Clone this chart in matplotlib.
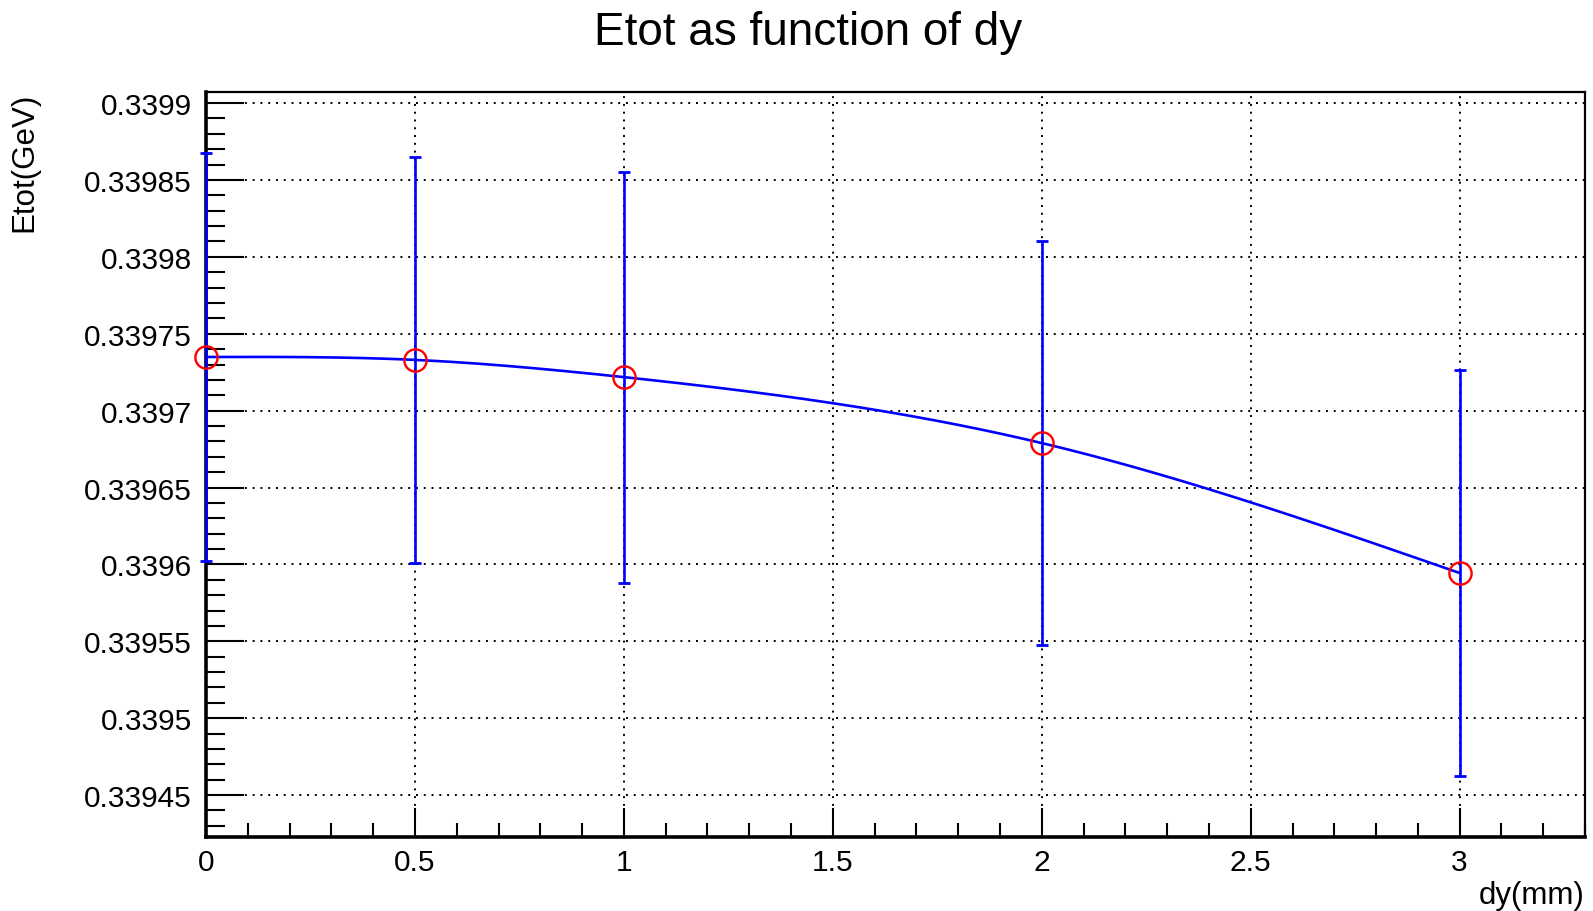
import matplotlib
matplotlib.use("Agg")
import matplotlib.pyplot as plt
from matplotlib.ticker import MultipleLocator, FuncFormatter
import numpy as np

# ── Data ─────────────────────────────────────────────────────────────────────
dy_mm = [0.0, 0.5, 1.0, 2.0, 3.0]
etot_gev = [0.3397349, 0.3397330, 0.3397218, 0.3396789, 0.3395944]
etot_err = [0.0001326, 0.0001320, 0.0001336, 0.0001313, 0.0001320]

X_RANGE = (0.0, 3.3)
Y_RANGE = (0.3394227, 0.3399072)

plt.rcParams["font.family"] = ["Liberation Sans", "DejaVu Sans"]


def natural_spline(x, y, n=400):
    # smooth curve through the points, like ROOT's "C" draw option
    x = np.asarray(x, float)
    y = np.asarray(y, float)
    h = np.diff(x)
    m = len(x)
    A = np.zeros((m, m))
    r = np.zeros(m)
    A[0, 0] = A[-1, -1] = 1.0
    for i in range(1, m - 1):
        A[i, i - 1] = h[i - 1]
        A[i, i] = 2 * (h[i - 1] + h[i])
        A[i, i + 1] = h[i]
        r[i] = 6 * ((y[i + 1] - y[i]) / h[i] - (y[i] - y[i - 1]) / h[i - 1])
    M = np.linalg.solve(A, r)
    xs = np.linspace(x[0], x[-1], n)
    k = np.clip(np.searchsorted(x, xs) - 1, 0, m - 2)
    t0 = x[k + 1] - xs
    t1 = xs - x[k]
    hk = h[k]
    ys = (M[k] * t0**3 / (6 * hk) + M[k + 1] * t1**3 / (6 * hk)
          + (y[k] / hk - M[k] * hk / 6) * t0
          + (y[k + 1] / hk - M[k + 1] * hk / 6) * t1)
    return xs, ys


fig = plt.figure(figsize=(15.93, 9.12), dpi=100)
ax = fig.add_axes([0.1293, 0.0811, 0.8657, 0.8169])

xs, ys = natural_spline(dy_mm, etot_gev)
ax.plot(xs, ys, color="blue", linewidth=1.9, zorder=3)
ax.errorbar(dy_mm, etot_gev, yerr=etot_err, fmt="none", ecolor="blue",
            elinewidth=1.9, capsize=4, capthick=2, zorder=5, clip_on=False)
ax.plot(dy_mm, etot_gev, linestyle="none", marker="o", markersize=16,
        markerfacecolor="none", markeredgecolor="red", markeredgewidth=1.7,
        zorder=6, clip_on=False)

ax.set_xlim(*X_RANGE)
ax.set_ylim(*Y_RANGE)

ax.xaxis.set_major_locator(MultipleLocator(0.5))
ax.xaxis.set_minor_locator(MultipleLocator(0.1))
ax.yaxis.set_major_locator(MultipleLocator(0.00005))
ax.yaxis.set_minor_locator(MultipleLocator(0.00001))
ax.xaxis.set_major_formatter(FuncFormatter(lambda v, p: f"{v:g}"))
ax.yaxis.set_major_formatter(
    FuncFormatter(lambda v, p: f"{v:.5f}".rstrip("0").rstrip(".")))

ax.tick_params(axis="both", which="both", direction="in", top=False,
               right=False, width=1.5, labelsize=21.5, color="black")
ax.tick_params(axis="y", which="major", length=27, pad=10)
ax.tick_params(axis="y", which="minor", length=14)
ax.tick_params(axis="x", which="major", length=21, pad=8)
ax.tick_params(axis="x", which="minor", length=10)

ax.grid(True, which="major", color="black", linestyle=(0, (1, 3)),
        linewidth=1.4)

for side in ("bottom", "left"):
    ax.spines[side].set_linewidth(2.6)
for side in ("top", "right"):
    ax.spines[side].set_linewidth(1.6)

ax.set_xlabel("dy(mm)", loc="right", fontsize=22.5)
ax.xaxis.set_label_coords(1.0, -0.058)
ax.set_ylabel("Etot(GeV)", loc="top", fontsize=22.5)
ax.yaxis.set_label_coords(-0.121, 1.0)

fig.text(0.507, 0.9507, "Etot as function of dy", fontsize=33,
         ha="center", va="baseline")

fig.savefig("out.png", dpi=100)
